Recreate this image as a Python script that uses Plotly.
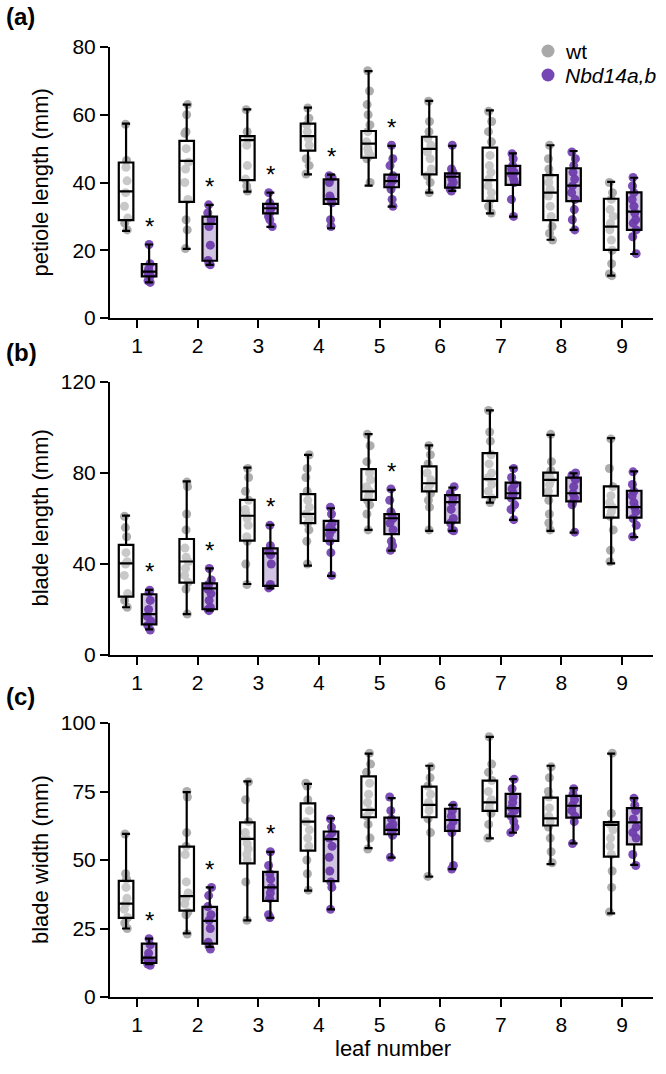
import plotly.graph_objects as go

leaves = [1, 2, 3, 4, 5, 6, 7, 8, 9]
tick_labels = ["1", "2", "3", "4", "5", "6", "7", "8", "9"]
genotypes = ["wt", "<i>Nbd14a,b</i>"]

# box statistics per leaf: (min, q1, median, q3, max)
petiole_wt_stats = [(25.7, 28.9, 37.4, 45.9, 57.4), (20.4, 34.3, 46.4, 52.3, 63.0), (37.3, 40.7, 52.5, 53.7, 61.6),
                    (42.4, 49.4, 53.7, 57.4, 62.1), (39.1, 47.3, 51.5, 55.2, 72.9), (37.0, 42.4, 49.9, 53.5, 64.1),
                    (30.9, 34.6, 40.7, 50.3, 61.3), (23.1, 28.9, 37.0, 42.2, 51.0), (12.5, 20.1, 27.0, 35.2, 40.2)]
petiole_mut_stats = [(10.5, 12.3, 13.7, 15.9, 21.7), (15.7, 16.9, 27.8, 29.9, 33.4), (26.9, 30.9, 32.4, 33.7, 37.0),
                     (26.5, 33.7, 35.1, 40.9, 42.3), (32.9, 38.6, 40.4, 42.3, 50.8), (37.5, 38.5, 41.7, 42.7, 50.8),
                     (29.9, 39.3, 42.7, 44.9, 48.6), (26.0, 34.5, 39.1, 44.2, 49.3), (18.9, 26.0, 31.4, 37.1, 41.4)]
blade_len_wt_stats = [(21.0, 25.7, 40.3, 48.4, 61.3), (18.0, 31.8, 41.1, 51.0, 76.3), (31.2, 50.3, 61.2, 68.2, 82.4),
                      (39.3, 58.0, 62.0, 70.7, 88.0), (55.0, 68.2, 71.9, 81.7, 97.1), (54.6, 71.9, 75.5, 82.9, 92.1),
                      (67.0, 69.4, 77.3, 88.7, 107.5), (54.6, 70.0, 77.0, 80.2, 96.8), (40.3, 60.4, 65.0, 74.1, 95.3)]
blade_len_mut_stats = [(11.3, 13.5, 18.0, 26.7, 28.6), (19.5, 20.1, 29.3, 31.5, 38.1), (29.3, 30.4, 44.7, 46.9, 57.2),
                       (34.8, 50.2, 55.0, 59.0, 64.5), (45.9, 53.1, 60.1, 61.9, 72.6), (54.6, 58.2, 67.2, 70.3, 73.6),
                       (59.4, 68.9, 71.1, 75.8, 82.4), (53.8, 67.5, 71.1, 78.0, 79.9), (51.8, 60.4, 65.0, 72.2, 80.7)]
blade_wid_wt_stats = [(25.0, 28.9, 34.1, 42.4, 59.5), (23.2, 31.5, 36.8, 54.9, 74.8), (28.0, 48.8, 57.7, 63.7, 78.7),
                      (38.8, 53.4, 64.0, 70.7, 77.8), (54.3, 65.6, 68.3, 80.5, 88.8), (43.9, 65.6, 70.1, 76.8, 84.4),
                      (57.9, 67.9, 71.0, 79.0, 94.9), (48.5, 62.6, 65.2, 72.8, 84.4), (30.5, 51.2, 62.8, 63.8, 88.8)]
blade_wid_mut_stats = [(12.0, 12.4, 14.4, 19.5, 21.3), (18.3, 19.5, 27.8, 32.9, 40.0), (28.9, 35.1, 40.0, 45.7, 53.0),
                       (32.0, 42.3, 57.6, 60.4, 65.2), (50.9, 59.4, 61.0, 65.5, 72.6), (46.7, 60.6, 64.6, 68.7, 70.1),
                       (60.0, 65.9, 68.9, 74.1, 79.5), (56.1, 65.5, 69.8, 73.4, 76.2), (48.2, 55.7, 63.7, 68.9, 72.6)]

# individual plants per leaf
petiole_wt_pts = [[57.2, 46.5, 44.5, 40.5, 37, 33, 29.5, 28, 26], [63, 60, 55, 54.5, 50, 46, 44, 40, 35, 29, 26, 20.5],
                  [61.5, 55, 53, 51, 45, 41, 39, 37.5], [62, 59, 57, 55, 53, 51, 47, 45, 42.5],
                  [73, 67, 63, 60, 57, 55, 52, 50, 49, 48, 47, 40], [64, 58, 55, 53, 51, 49, 47, 44, 42, 40, 37],
                  [61, 58, 55, 52, 48, 45, 43, 41, 39, 37, 35, 33, 31], [51, 47, 44, 42, 40, 38, 36, 33, 30, 27, 25, 23],
                  [40, 37, 35, 32, 30, 28, 26, 23, 20, 16, 13, 12.5]]
petiole_mut_pts = [[21.7, 16, 14.5, 13.5, 12.5, 11, 10.5], [33.4, 31, 29, 27, 21.5, 17, 16, 15.7],
                   [37, 34, 33, 32.5, 32, 31, 30, 29, 27], [42, 41.5, 40, 36, 35, 34, 29, 27],
                   [51, 47, 45, 42, 41, 40.5, 39, 38, 35, 33], [51, 44, 43, 42, 41, 40, 39, 38, 37.5],
                   [48.5, 47, 45, 44, 43, 42.5, 41, 40, 35, 30], [49, 47, 45, 43, 41, 39, 37, 35, 32, 29, 26],
                   [41.5, 39, 37, 35, 33, 31, 29, 28, 26, 24, 19]]
blade_len_wt_pts = [[61, 56, 52, 45, 41, 40, 35, 27, 24, 21], [76, 74, 62, 55, 47, 43, 41, 38, 35, 32, 29, 18],
                    [82, 78, 72, 68, 64, 62, 60, 57, 52, 50, 40, 31], [88, 82, 78, 72, 68, 65, 62, 60, 58, 55, 50, 40],
                    [97, 92, 85, 80, 77, 74, 72, 70, 68, 66, 62, 55], [92, 88, 84, 80, 77, 75, 73, 71, 68, 65, 55],
                    [107.5, 98, 94, 88, 84, 80, 78, 75, 72, 69, 67], [97, 85, 81, 79, 77, 75, 72, 68, 62, 58, 55],
                    [95, 82, 74, 70, 67, 65, 63, 61, 55, 46, 41]]
blade_len_mut_pts = [[28.5, 27.5, 24, 20, 17, 15, 13, 11], [38, 33, 31, 29, 27, 24, 21, 20, 19.5],
                     [57, 48, 46, 45, 44, 40, 31, 30, 29.5], [65, 62, 58, 56, 55, 53, 50, 45, 35],
                     [73, 68, 63, 62, 60, 58, 55, 50, 48, 46], [74, 71, 69, 67, 64, 60, 58, 55, 54.6],
                     [82, 78, 75, 73, 71, 70, 69, 66, 64, 59.5], [80, 79, 77, 74, 71, 69, 67, 66, 54],
                     [80.5, 75, 72, 70, 67, 65, 63, 60, 57, 52]]
blade_wid_wt_pts = [[59.5, 45, 43, 40, 36, 34, 32, 29, 27, 25], [75, 73, 60, 55, 52, 42, 38, 36, 34, 31, 30, 23],
                    [78.5, 72, 64, 60, 58, 56, 54, 52, 50, 42, 28], [78, 77, 72, 68, 64, 61, 58, 55, 50, 45, 39],
                    [89, 85, 82, 78, 74, 71, 68, 66, 63, 58, 54], [84, 80, 77, 74, 71, 70, 68, 65, 60, 44],
                    [95, 85, 82, 79, 75, 72, 71, 69, 67, 63, 58], [84, 80, 75, 73, 69, 66, 64, 62, 58, 53, 49],
                    [89, 67, 63, 61, 58, 55, 52, 46, 40, 31]]
blade_wid_mut_pts = [[21.3, 19, 16, 14, 13, 12, 11.6], [40, 37, 33, 30, 28, 25, 20, 18.5, 17.5],
                     [53, 48, 45, 43, 40, 38, 36, 30, 29], [65, 62, 60, 58, 55, 51, 46, 42, 40, 32],
                     [73, 68, 65, 63, 62, 61, 60, 59, 51], [70, 68, 66, 64, 62, 60, 48, 46.7],
                     [79.5, 76, 73, 71, 69, 68, 66, 64, 62, 60], [76, 74, 72, 70, 68, 66, 64, 56],
                     [72.5, 70, 68, 65, 62, 60, 58, 52, 48]]

# leaves with a significant difference (asterisk above mutant)
petiole_sig = [1, 2, 3, 4, 5]
blade_len_sig = [1, 2, 3, 5]
blade_wid_sig = [1, 2, 3]

panels = [
    dict(label="(a)", title="petiole length (mm)", wt=petiole_wt_stats, mut=petiole_mut_stats,
         wtp=petiole_wt_pts, mutp=petiole_mut_pts, sig=petiole_sig, yr=[0, 80], dt=20),
    dict(label="(b)", title="blade length (mm)", wt=blade_len_wt_stats, mut=blade_len_mut_stats,
         wtp=blade_len_wt_pts, mutp=blade_len_mut_pts, sig=blade_len_sig, yr=[0, 120], dt=40),
    dict(label="(c)", title="blade width (mm)", wt=blade_wid_wt_stats, mut=blade_wid_mut_stats,
         wtp=blade_wid_wt_pts, mutp=blade_wid_mut_pts, sig=blade_wid_sig, yr=[0, 100], dt=25),
]

W, H = 666, 1074
FONT = "Liberation Sans, Arial, sans-serif"
GREY = "#A9A9A9"
PURPLE = "#7646B4"
OFF_WT, OFF_MUT, BW = -0.18, 0.20, 0.24

# pixel layout of the three plot areas (top, bottom)
pix = [(47, 318), (382, 655), (723, 997)]
x_left, x_right = 110, 653

fig = go.Figure()
for i, p in enumerate(panels):
    xa = "x" if i == 0 else f"x{i+1}"
    ya = "y" if i == 0 else f"y{i+1}"
    for stats, pts, off, col in [(p["wt"], p["wtp"], OFF_WT, GREY),
                                 (p["mut"], p["mutp"], OFF_MUT, PURPLE)]:
        xs, ys = [], []
        for lf, vals in zip(leaves, pts):
            xs += [lf + off] * len(vals)
            ys += vals
        # individual points (invisible box, jittered points)
        fig.add_trace(go.Box(x=xs, y=ys, xaxis=xa, yaxis=ya, boxpoints="all", jitter=0.3, pointpos=0,
                             width=BW, line=dict(width=0), fillcolor="rgba(0,0,0,0)",
                             marker=dict(color=col, size=9, opacity=0.95), showlegend=False, hoverinfo="y"))
    for stats, off, fill in [(p["wt"], OFF_WT, "rgba(255,255,255,0.35)"),
                             (p["mut"], OFF_MUT, "rgba(90,40,150,0.28)")]:
        fig.add_trace(go.Box(x=[lf + off for lf in leaves], xaxis=xa, yaxis=ya,
                             lowerfence=[s[0] for s in stats], q1=[s[1] for s in stats],
                             median=[s[2] for s in stats], q3=[s[3] for s in stats],
                             upperfence=[s[4] for s in stats], width=BW, whiskerwidth=0.55,
                             line=dict(color="black", width=2.2), fillcolor=fill, showlegend=False))
    top, bot = pix[i]
    dom = [1 - bot / H, 1 - top / H]
    axis_common = dict(showline=True, linecolor="black", linewidth=2, ticks="outside", ticklen=8,
                       tickwidth=2, tickcolor="black", showgrid=False, zeroline=False,
                       tickfont=dict(family=FONT, size=21, color="black"))
    fig.layout[("xaxis" if i == 0 else f"xaxis{i+1}")] = dict(
        domain=[x_left / W, x_right / W], range=[0.555, 9.51], anchor=ya,
        tickmode="array", tickvals=leaves, ticktext=tick_labels, **axis_common)
    fig.layout[("yaxis" if i == 0 else f"yaxis{i+1}")] = dict(
        domain=dom, range=p["yr"], dtick=p["dt"], tick0=0, anchor=xa, **axis_common)
    # y title
    fig.add_annotation(xref="paper", yref="paper", x=40 / W, y=1 - (top + bot) / 2 / H,
                       xanchor="center", yanchor="middle",
                       text=p["title"], textangle=-90, showarrow=False,
                       font=dict(family=FONT, size=22, color="black"))
    # panel label
    lab_y = [17, 353, 696][i]
    fig.add_annotation(xref="paper", yref="paper", x=4 / W, y=1 - lab_y / H, xanchor="left",
                       yanchor="middle", text=f"<b>{p['label']}</b>", showarrow=False,
                       font=dict(family=FONT, size=24, color="black"))
    # significance stars
    for lf in p["sig"]:
        fig.add_annotation(xref=xa, yref=ya, x=lf + OFF_MUT, y=p["mut"][lf - 1][4], yshift=18,
                           text="*", showarrow=False, font=dict(family=FONT, size=24, color="black"))

fig.add_annotation(xref="paper", yref="paper", x=393 / W, y=1 - 1063 / H, text="leaf number",
                   showarrow=False, font=dict(family=FONT, size=22, color="black"))

# legend (dots + labels)
leg_rows = [51, 75]
for name, col, ry in zip(genotypes, [GREY, PURPLE], leg_rows):
    fig.add_shape(type="circle", xref="paper", yref="paper",
                  x0=(548 - 6.5) / W, x1=(548 + 6.5) / W, y0=1 - (ry + 6.5) / H, y1=1 - (ry - 6.5) / H,
                  fillcolor=col, line=dict(width=0))
    fig.add_annotation(xref="paper", yref="paper", x=563 / W, y=1 - ry / H, xanchor="left",
                       yanchor="middle", height=20, text=name, showarrow=False,
                       font=dict(family=FONT, size=21, color="black"))

fig.update_layout(
    width=W, height=H, margin=dict(l=0, r=0, t=0, b=0, autoexpand=False),
    paper_bgcolor="white", plot_bgcolor="white",
    showlegend=False,
    boxmode="overlay",
)

fig.write_html("out.html", config={"displayModeBar": False},
               post_script="document.body.style.margin='0px';")
